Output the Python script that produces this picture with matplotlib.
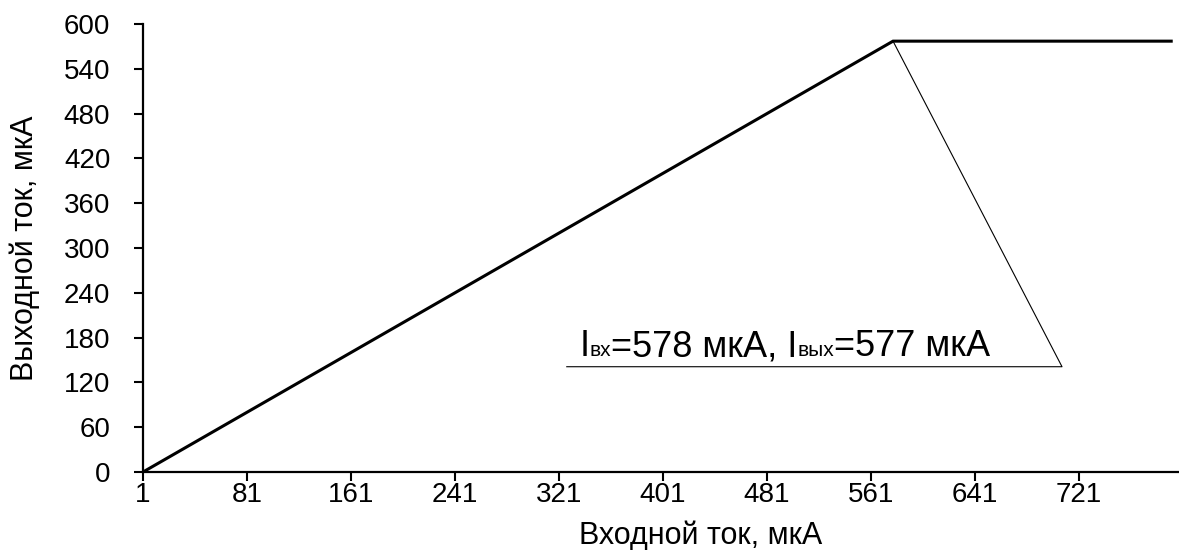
import numpy as np
import matplotlib.pyplot as plt
from matplotlib.offsetbox import TextArea, HPacker, AnnotationBbox

plt.rcParams['font.family'] = ['Liberation Sans', 'DejaVu Sans']

# transfer curve breakpoints (input current -> output current), uA
x_in = [1, 578, 792]
y_out = [0, 577, 577]

x_ticks = [1, 81, 161, 241, 321, 401, 481, 561, 641, 721]
y_ticks = [0, 60, 120, 180, 240, 300, 360, 420, 480, 540, 600]

# callout leader from the saturation point
leader_x = [578, 708, 327]
leader_y = [577, 141, 141]

fig = plt.figure(figsize=(11.79, 5.5), dpi=100)
ax = fig.add_axes([0.1213, 0.1418, 0.8787, 0.8146])

ax.plot(x_in, y_out, color='black', lw=2.2, solid_joinstyle='miter')
ax.plot(leader_x, leader_y, color='black', lw=0.8)

ax.set_xlim(1, 798)
ax.set_ylim(0, 600)
ax.set_xticks(x_ticks)
ax.set_yticks(y_ticks)
ax.tick_params(direction='out', length=6.5, width=1.5, labelsize=20)
ax.tick_params(axis='y', pad=17)
ax.tick_params(axis='x', pad=1)
for s in ['top', 'right']:
    ax.spines[s].set_visible(False)
for s in ['left', 'bottom']:
    ax.spines[s].set_linewidth(1.6)

ax.set_xlabel('Входной ток, мкА', fontsize=22)
ax.set_ylabel('Выходной ток, мкА', fontsize=22)
ax.xaxis.set_label_coords(0.538, -0.108)
ax.yaxis.set_label_coords(-0.0995, 0.5)

# label with small subscripts sitting on the baseline
big = dict(fontsize=26, color='black')
small = dict(fontsize=15, color='black')
parts = [("I", big), ("вх", small), ("=578 мкА, I", big), ("вых", small), ("=577 мкА", big)]
pack = HPacker(children=[TextArea(t, textprops=p) for t, p in parts],
               align='baseline', pad=0, sep=0)
ab = AnnotationBbox(pack, (337, 144), xycoords='data', box_alignment=(0, 0),
                    frameon=False, pad=0)
ax.add_artist(ab)

fig.savefig('out.png', dpi=100)
